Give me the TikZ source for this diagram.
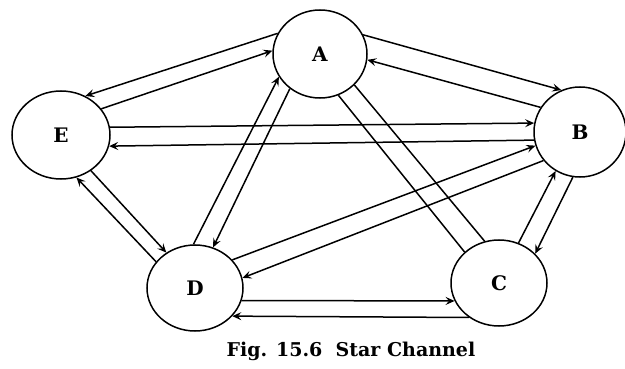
\documentclass[tikz,border=0pt]{standalone}
\usepackage{fontspec}
\setmainfont{DejaVu Serif}
\usetikzlibrary{arrows.meta,shapes.geometric}
\begin{document}
\begin{tikzpicture}[x=1pt,y=-1pt,
  station/.style={draw, ellipse, line width=1.5pt, inner sep=0pt,
    font=\fontsize{20}{20}\selectfont\bfseries},
  link/.style={line width=1.5pt},
  tip/.style={link, -{Stealth[length=9pt,width=8pt,inset=3.5pt]}}
]
\useasboundingbox (0,0) rectangle (625,369);
\fill[white] (0,0) rectangle (625,369);
\node[station, minimum width=94pt, minimum height=88pt] (A) at (320,54) {A};
\node[station, minimum width=98pt, minimum height=88pt] (E) at (61,135) {E};
\node[station, minimum width=92pt, minimum height=90pt] (B) at (580,132) {B};
\node[station, minimum width=96pt, minimum height=86pt] (D) at (195,288) {D};
\node[station, minimum width=96pt, minimum height=86pt] (C) at (499,283) {C};
% A-E
\draw[tip] (A.154) -- (E.58);
\draw[tip] (E.33) -- (A.176);
% A-B
\draw[tip] (A.24) -- (B.114);
\draw[tip] (B.148) -- (A.-7);
% E-B
\draw[tip] (E.9) -- (B.169);
\draw[tip] (B.190) -- (E.-13);
% A-D
\draw[tip] (D.92) -- (A.209);
\draw[tip] (A.229) -- (D.66);
% A-C
\draw[link] (A.294) -- (C.138);
\draw[link] (A.318) -- (C.109);
% D-B
\draw[tip] (D.37) -- (B.197);
\draw[tip] (B.218) -- (D.12);
% C-B
\draw[tip] (C.64) -- (B.238);
\draw[tip] (B.261) -- (C.39);
% D-C
\draw[tip] (D.-15) -- (C.202);
\draw[tip] (C.229) -- (D.-37);
% E-D
\draw[tip] (E.-50) -- (D.129);
\draw[tip] (D.146) -- (E.-70);
\node[font=\fontsize{19}{19}\selectfont\bfseries] (cap) at (351,351) {Fig. 15.6\ \ Star Channel};
\end{tikzpicture}
\end{document}
